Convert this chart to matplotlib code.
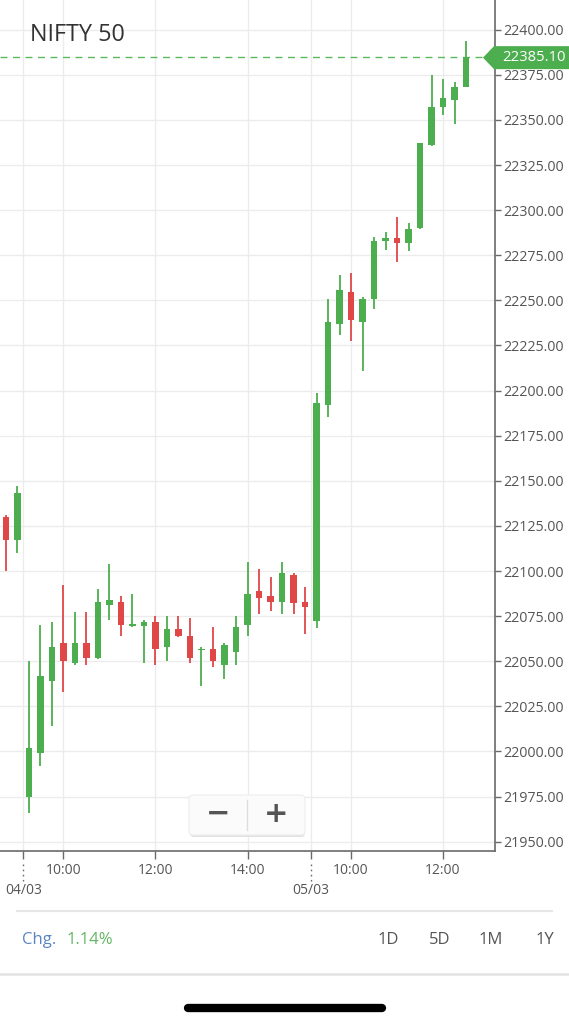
import matplotlib
matplotlib.use("Agg")
import matplotlib.pyplot as plt
from matplotlib.patches import FancyBboxPatch, Polygon
from matplotlib.lines import Line2D
from matplotlib.transforms import IdentityTransform

plt.rcParams['font.family'] = ['Open Sans', 'DejaVu Sans']

# 15 minute candles, last two of the previous session then 04/03 and 05/03
opens = [22130, 22117, 21975, 21999, 22039, 22060, 22049, 22060, 22052, 22081,
         22083, 22069.5, 22069.5, 22072, 22058, 22068, 22064, 22056, 22056.5, 22048,
         22055, 22070, 22089, 22086, 22083, 22098, 22083, 22072.5, 22192, 22237,
         22254.5, 22238, 22251, 22283, 22284.5, 22282, 22290, 22336, 22357, 22361,
         22368]
highs = [22131, 22147, 22050, 22070, 22072, 22092, 22077, 22077, 22090, 22104,
         22086, 22087, 22073, 22075, 22075, 22075, 22074, 22058, 22069, 22060,
         22075, 22105, 22101, 22096.5, 22105, 22099, 22091, 22198.5, 22251, 22264,
         22265, 22252, 22285, 22288, 22296, 22293, 22337.5, 22375, 22372.5, 22371,
         22394]
lows = [22100, 22110, 21966, 21992, 22014, 22033, 22048, 22048, 22051, 22073,
        22064, 22069, 22049, 22048, 22050, 22063.5, 22049, 22036, 22047, 22040,
        22048, 22064, 22076, 22078, 22076, 22076, 22065, 22068.5, 22185.5, 22231,
        22227.5, 22211, 22245, 22278, 22271, 22277.5, 22289.5, 22335.5, 22353, 22348,
        22368]
closes = [22117, 22143, 22002, 22042, 22058, 22050, 22060, 22052, 22083, 22084,
          22070, 22070.5, 22072, 22057, 22068, 22064, 22052, 22057, 22050, 22059,
          22069, 22087, 22085, 22083, 22099, 22082, 22080, 22193, 22238, 22256,
          22239, 22251, 22283, 22284.5, 22282, 22289.5, 22337, 22357, 22362, 22368.5,
          22385.1]

tick_pos = [1.5, 5, 13, 21, 26.5, 30, 38]
tick_labels = ['', '10:00', '12:00', '14:00', '', '10:00', '12:00']
day_pos = [1.5, 26.5]
day_labels = ['04/03', '05/03']
price_ticks = [21950, 21975, 22000, 22025, 22050, 22075, 22100, 22125, 22150, 22175,
               22200, 22225, 22250, 22275, 22300, 22325, 22350, 22375, 22400]
last_price = 22385.10
title = 'NIFTY 50'
change = '1.14%'
ranges = ['1D', '5D', '1M', '1Y']

GREEN = '#4cae4f'
RED = '#e04848'
W, H = 569, 1024

fig = plt.figure(figsize=(W / 100, H / 100), dpi=100)
ax = fig.add_axes([0, 1 - 851 / H, 495 / W, 851 / H])
ax.set_xlim(-0.52, 42.52)
ax.set_ylim(21944.8, 22416.5)

for i in range(len(opens)):
    o, h, l, c = opens[i], highs[i], lows[i], closes[i]
    col = GREEN if c >= o else RED
    ax.vlines(i, l, h, color=col, lw=1.3, zorder=3)
    ax.bar(i, max(abs(c - o), 0.9), bottom=min(o, c), width=0.6, color=col, zorder=4)

ax.grid(True, color='#ececec', lw=1.0, zorder=0)
ax.set_axisbelow(True)
for s in ['top', 'left']:
    ax.spines[s].set_visible(False)
for s in ['right', 'bottom']:
    ax.spines[s].set_color('#6a6a6a')
    ax.spines[s].set_linewidth(1.2)

ax.yaxis.tick_right()
ax.set_yticks(price_ticks)
ax.set_yticklabels(['%.2f' % v for v in price_ticks])
ax.tick_params(axis='y', length=4, width=1, color='#6a6a6a', labelcolor='#555555',
               labelsize=10.3, pad=2)
ax.set_xticks(tick_pos)
ax.set_xticklabels(tick_labels)
ax.tick_params(axis='x', length=6, width=1, color='#6a6a6a', labelcolor='#555555',
               labelsize=10, pad=3)

xt = ax.get_xaxis_transform()
for p, lab in zip(day_pos, day_labels):
    ax.plot([p, p], [-0.015, -0.035], transform=xt, color='#6a6a6a', lw=1,
            ls=(0, (1.2, 2.5)), clip_on=False)
    ax.text(p, -0.046, lab, transform=xt, ha='center', va='center',
            fontsize=10, color='#555555', clip_on=False)

# last price line and tag
ax.axhline(last_price, xmax=0.975, color='#5cb85c', lw=1, ls=(0, (5, 4)), zorder=2)
fig.canvas.draw()
yd = ax.transData.transform((0, last_price))[1] - 1
tag = Polygon([(483, yd), (494, yd + 11.5), (W, yd + 11.5), (W, yd - 11.5), (494, yd - 11.5)],
              closed=True, facecolor=GREEN, edgecolor='none', transform=IdentityTransform())
fig.add_artist(tag)
fig.text(534 / W, yd / H, '%.2f' % last_price, ha='center', va='center',
         fontsize=10.7, color='white')

fig.text(30 / W, 1 - 35 / H, title, ha='left', va='center', fontsize=16.8, color='#333333')

# zoom buttons
shadow = FancyBboxPatch((190, H - 837), 115, 40, boxstyle='round,pad=0,rounding_size=4',
                        facecolor='#e2e2e2', edgecolor='none', transform=IdentityTransform())
box = FancyBboxPatch((189, H - 835), 116, 40, boxstyle='round,pad=0,rounding_size=4',
                     facecolor='#fbfbfb', edgecolor='#ededed', lw=0.8, transform=IdentityTransform())
fig.add_artist(shadow)
fig.add_artist(box)
fig.add_artist(Line2D([247 / W, 247 / W], [1 - 800 / H, 1 - 830 / H], color='#dddddd', lw=1))
fig.text(218 / W, 1 - 814 / H, '\u2212', ha='center', va='center', fontsize=21,
         fontweight='heavy', color='#555555', family='DejaVu Sans')
fig.text(276 / W, 1 - 814 / H, '+', ha='center', va='center', fontsize=21,
         fontweight='heavy', color='#555555', family='DejaVu Sans')

# lower panel
fig.add_artist(Line2D([17 / W, 552 / W], [1 - 911 / H, 1 - 911 / H], color='#e6e6e6', lw=1.5))
fig.add_artist(Line2D([0, 1], [1 - 974 / H, 1 - 974 / H], color='#e3e3e3', lw=1.8))
fig.text(22 / W, 1 - 940 / H, 'Chg.', ha='left', va='center', fontsize=12, color='#5a86c5')
fig.text(67 / W, 1 - 940 / H, change, ha='left', va='center', fontsize=12, color='#62b662')
for xr, r in zip([388, 440, 491, 545], ranges):
    fig.text(xr / W, 1 - 940 / H, r, ha='center', va='center', fontsize=12, color='#555555')

fig.add_artist(Line2D([188 / W, 382 / W], [1 - 1008 / H, 1 - 1008 / H], color='black',
                      lw=6, solid_capstyle='round'))

fig.savefig('out.png', dpi=100)
